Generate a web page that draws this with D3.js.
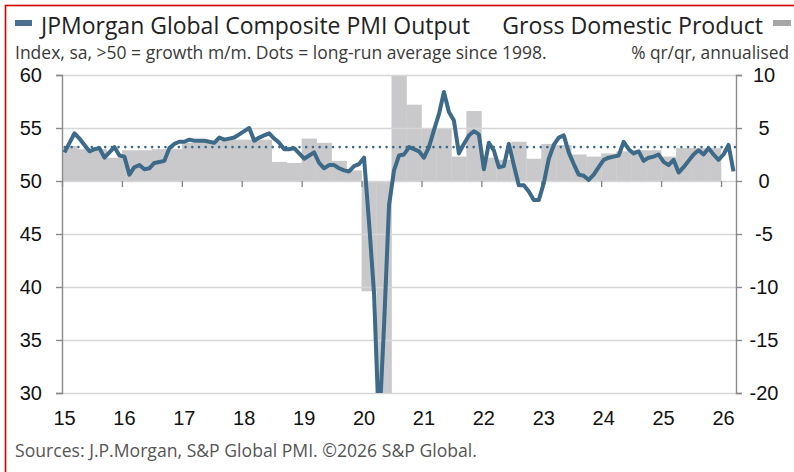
<!DOCTYPE html>
<html><head><meta charset="utf-8">
<script src="https://cdn.jsdelivr.net/npm/d3@7/dist/d3.min.js"></script>
<style>body{margin:0;background:#fff}svg{display:block}</style></head>
<body><svg id="c" width="794" height="472"></svg>
<script>
// ---- data ----
const yearLabels = ["15","16","17","18","19","20","21","22","23","24","25","26"];
const leftTicks = [30,35,40,45,50,55,60];
const rightTicks = [-20,-15,-10,-5,0,5,10];
const pmiAverage = 53.2;
// JPMorgan Global Composite PMI Output, monthly Jan 2015 - Mar 2026
const pmi = [
 52.7,53.6,54.5,54.0,53.4,52.8,53.0,53.1,52.2,52.7,53.2,52.4,
 52.3,50.6,51.3,51.5,51.1,51.2,51.7,51.8,51.9,53.1,53.5,53.7,
 53.7,53.9,53.8,53.8,53.8,53.7,53.6,54.1,53.9,54.0,54.1,54.4,
 54.7,55.0,53.8,54.1,54.3,54.5,54.0,53.6,53.0,53.0,53.1,52.6,
 52.1,52.4,52.7,51.7,51.2,51.5,51.5,51.2,51.0,50.9,51.4,51.6,
 52.2,46.1,39.4,26.5,36.3,47.7,51.0,52.4,52.5,53.2,53.0,52.8,
 52.2,53.2,54.8,56.3,58.4,56.5,55.7,52.6,53.5,54.3,54.7,54.4,
 51.1,53.6,52.9,51.3,51.4,53.5,51.5,49.6,49.6,49.0,48.2,48.2,
 49.8,52.1,53.4,54.1,54.3,52.7,51.6,50.6,50.5,50.1,50.6,51.3,
 52.0,52.2,52.3,52.4,53.7,53.0,52.6,52.8,51.9,52.2,52.3,52.5,
 51.8,51.5,52.0,50.8,51.3,51.9,52.5,52.9,52.5,53.1,52.5,52.0,
 52.5,53.4,50.9
];
// Gross Domestic Product, % q/q annualised, quarterly Q1 2015 - Q4 2025
const gdp = [
 3.3,3.0,3.0,2.2,
 2.9,2.9,3.0,3.0,
 3.6,3.7,3.8,3.9,
 3.9,3.9,1.8,1.7,
 4.0,3.6,1.9,1.0,
 -10.4,-20.0,10.0,7.2,
 5.0,5.0,2.3,6.6,
 2.2,2.0,3.7,2.1,
 3.5,3.4,2.5,2.3,
 2.6,2.8,2.9,2.9,
 2.3,3.1,3.1,3.1
];

// ---- layout ----
const svg = d3.select("#c");
const L = 62, R = 736, T = 75, B = 393;
const lineColor = "#3d6a88", barColor = "#c9c9cb", gridColor = "#d6d6d6", axisColor = "#8a8a8a";
const x = d3.scaleLinear().domain([0, 135]).range([L, R]);
const yL = d3.scaleLinear().domain([30, 60]).range([B, T]);
const yR = d3.scaleLinear().domain([-20, 10]).range([B, T]);

svg.append("rect").attr("x",5.5).attr("y",5.5).attr("width",820).attr("height",500)
  .attr("fill","#fff").attr("stroke","#d40000").attr("stroke-width",1.6);

svg.append("clipPath").attr("id","pc").append("rect")
  .attr("x",L).attr("y",T).attr("width",R-L).attr("height",B-T);

// bars
svg.append("g").attr("clip-path","url(#pc)").selectAll("rect").data(gdp).join("rect")
  .attr("x",(d,i)=>x(3*i)).attr("width",(d,i)=>x(3*i+3)-x(3*i)+0.3)
  .attr("y",d=>Math.min(yR(d),yR(0))).attr("height",d=>Math.abs(yR(d)-yR(0)))
  .attr("fill",barColor);

// gridlines
svg.append("g").call(d3.axisLeft(yL).tickValues(leftTicks).tickSize(-(R-L)).tickFormat(""))
  .attr("transform",`translate(${L},0)`)
  .call(g=>g.select(".domain").remove())
  .call(g=>g.selectAll("line").attr("stroke",gridColor).attr("stroke-width",1.4));

// left axis
const gl = svg.append("g").attr("transform",`translate(${L},0)`)
  .call(d3.axisLeft(yL).tickValues(leftTicks).tickSize(6).tickPadding(14).tickFormat(d=>String(d)));
// right axis
const gr = svg.append("g").attr("transform",`translate(${R},0)`)
  .call(d3.axisRight(yR).tickValues(rightTicks).tickSize(6).tickPadding(0).tickFormat(d=>String(d)));
[gl,gr].forEach(g=>{
  g.select(".domain").attr("stroke",axisColor).attr("stroke-width",1.4);
  g.selectAll(".tick line").attr("stroke",axisColor).attr("stroke-width",1.4);
  g.selectAll("text").attr("font-family","'Liberation Sans', Arial, sans-serif").attr("font-size",20).attr("fill","#111");
});
gr.selectAll("text").attr("text-anchor","middle").attr("x",28);

// x axis (ticks at the 50 / 0 line, labels under the plot)
const years = yearLabels.map((d,i)=>i*12);
const gx = svg.append("g").attr("transform",`translate(0,${yL(50)})`)
  .call(d3.axisBottom(x).tickValues(years).tickSize(6).tickFormat(""));
gx.select(".domain").remove();
gx.selectAll(".tick line").attr("stroke",axisColor).attr("stroke-width",1.4);
svg.append("g").selectAll("text").data(yearLabels).join("text")
  .attr("x",(d,i)=>x(years[i])+2.5).attr("y",425).attr("text-anchor","middle")
  .attr("font-family","'Liberation Sans', Arial, sans-serif").attr("font-size",20).attr("fill","#111")
  .text(d=>d);

// average dotted line
svg.append("line").attr("x1",L+3).attr("x2",R).attr("y1",yL(pmiAverage)).attr("y2",yL(pmiAverage))
  .attr("stroke",lineColor).attr("stroke-width",2.6).attr("stroke-linecap","round")
  .attr("stroke-dasharray","0 6.7");

// PMI line
const line = d3.line().x((d,i)=>x(i+0.5)).y(d=>yL(d));
svg.append("path").datum(pmi).attr("clip-path","url(#pc)").attr("d",line)
  .attr("fill","none").attr("stroke",lineColor).attr("stroke-width",4)
  .attr("stroke-linejoin","round");

// titles (font size fitted to the reference text widths)
const tf = "'Open Sans', Roboto, sans-serif";
function fitText(t, xPos, y, anchor, width, size, fill){
  const el = svg.append("text").attr("x",xPos).attr("y",y).attr("text-anchor",anchor)
    .attr("font-family",tf).attr("font-size",size).attr("fill",fill).text(t);
  const w = el.node().getComputedTextLength();
  if (w > 0) el.attr("font-size", Math.max(size*0.85, Math.min(size*1.15, size*width/w)));
  return el;
}
svg.append("rect").attr("x",15).attr("y",20).attr("width",17).attr("height",6).attr("fill","#4a7090");
fitText("JPMorgan Global Composite PMI Output",41,34,"start",429,21,"#222");
fitText("Gross Domestic Product",763,34,"end",261,21,"#222");
svg.append("rect").attr("x",773).attr("y",20).attr("width",18).attr("height",6).attr("fill","#a6a6a6");
fitText("Index, sa, >50 = growth m/m. Dots = long-run average since 1998.",15,58.5,"start",532,15.5,"#3a3a3a");
fitText("% qr/qr, annualised",789,58.5,"end",158,15.5,"#3a3a3a");
fitText("Sources: J.P.Morgan, S&P Global PMI. \u00A92026 S&P Global.",15,457,"start",462,15.5,"#555");
</script></body></html>
